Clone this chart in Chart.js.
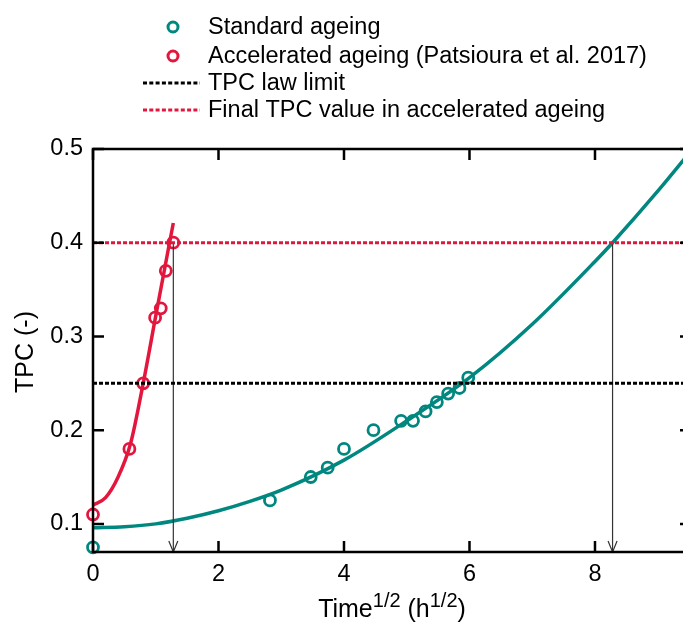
<!DOCTYPE html>
<html>
<head>
<meta charset="utf-8">
<script src="https://cdn.jsdelivr.net/npm/chart.js@4/dist/chart.umd.min.js"></script>
<style>
  html, body { margin: 0; padding: 0; background: #fff; overflow: hidden; }
  #wrap { width: 700px; height: 624px; }
</style>
</head>
<body>
<div id="wrap"><canvas id="grafico" width="700" height="624"></canvas></div>
<script>
// Standard ageing measurements
const stdX = [0, 2.82, 3.47, 3.74, 4.0, 4.47, 4.91, 5.10, 5.30, 5.48, 5.66, 5.84, 5.98];
const stdY = [0.075, 0.125, 0.150, 0.160, 0.180, 0.200, 0.210, 0.210, 0.220, 0.230, 0.239, 0.245, 0.256];

// Accelerated ageing (Patsioura et al. 2017)
const accX = [0, 0.58, 0.80, 0.99, 1.08, 1.16, 1.28];
const accY = [0.110, 0.180, 0.250, 0.320, 0.330, 0.370, 0.400];

// fitted curves
const stdFitX = [0, 0.5, 1, 1.5, 2, 2.5, 3, 4, 5, 6, 7, 8, 8.28, 9, 9.53];
const stdFitY = [0.096, 0.097, 0.100, 0.106, 0.114, 0.124, 0.136, 0.168, 0.210, 0.256, 0.313, 0.380, 0.400, 0.455, 0.498];
const accFitX = [0, 0.2, 0.4, 0.6, 0.8, 1.0, 1.2, 1.28];
const accFitY = [0.120, 0.128, 0.150, 0.186, 0.250, 0.322, 0.393, 0.421];

// limits and arrows
const lawLimit = 0.25;
const finalTPC = 0.40;
const arrowX = [1.28, 8.28];

const xTicks = [0, 2, 4, 6, 8];
const yTicks = [0.1, 0.2, 0.3, 0.4, 0.5];

const teal = '#00877f';
const red = '#e3173e';
const fonte = "'Liberation Sans', Arial, sans-serif";

const pts = (xs, ys) => xs.map((x, i) => ({ x: x, y: ys[i] }));

// frame, inward ticks, arrowheads, titles and legend
const extras = {
    id: 'extras',
    afterDatasetsDraw(chart) {
        const c = chart.ctx;
        const a = chart.chartArea;
        const sx = chart.scales.x, sy = chart.scales.y;

        // arrowheads
        c.save();
        c.strokeStyle = '#333';
        c.lineWidth = 1.2;
        arrowX.forEach(v => {
            const px = sx.getPixelForValue(v);
            c.beginPath();
            c.moveTo(px - 4.5, a.bottom - 11);
            c.lineTo(px, a.bottom);
            c.lineTo(px + 4.5, a.bottom - 11);
            c.stroke();
        });
        c.restore();

        // frame
        c.save();
        c.strokeStyle = '#000';
        c.lineWidth = 2.5;
        c.strokeRect(a.left, a.top, a.right - a.left, a.bottom - a.top);
        c.beginPath();
        xTicks.forEach(v => {
            const px = sx.getPixelForValue(v);
            c.moveTo(px, a.bottom); c.lineTo(px, a.bottom - 11);
            c.moveTo(px, a.top); c.lineTo(px, a.top + 11);
        });
        yTicks.forEach(v => {
            const py = sy.getPixelForValue(v);
            c.moveTo(a.left, py); c.lineTo(a.left + 11, py);
            c.moveTo(a.right, py); c.lineTo(a.right - 11, py);
        });
        c.stroke();
        c.restore();
    },
    afterDraw(chart) {
        const c = chart.ctx;
        const a = chart.chartArea;
        c.save();
        c.fillStyle = '#000';
        c.textBaseline = 'alphabetic';

        // x title with superscripts
        const big = '25px ' + fonte, small = '20px ' + fonte;
        const parts = [['Time', big, 0], ['1/2', small, -10], [' (h', big, 0], ['1/2', small, -10], [')', big, 0]];
        let w = 0;
        parts.forEach(p => { c.font = p[1]; w += c.measureText(p[0]).width; });
        let x = (a.left + a.right) / 2 - w / 2;
        const base = 617;
        parts.forEach(p => {
            c.font = p[1];
            c.fillText(p[0], x, base + p[2]);
            x += c.measureText(p[0]).width;
        });

        // y title
        c.font = big;
        c.textAlign = 'center';
        c.textBaseline = 'middle';
        c.translate(26, 352);
        c.rotate(-Math.PI / 2);
        c.fillText('TPC (-)', 0, 0);
        c.restore();

        // legend
        c.save();
        c.font = '23.5px ' + fonte;
        c.textBaseline = 'middle';
        c.fillStyle = '#000';
        const rows = [
            { y: 27, tipo: 'ponto', cor: teal, texto: 'Standard ageing' },
            { y: 56, tipo: 'ponto', cor: red, texto: 'Accelerated ageing (Patsioura et al. 2017)' },
            { y: 83, tipo: 'linha', cor: '#000', texto: 'TPC law limit' },
            { y: 110, tipo: 'linha', cor: red, texto: 'Final TPC value in accelerated ageing' }
        ];
        rows.forEach(r => {
            if (r.tipo === 'ponto') {
                c.beginPath();
                c.strokeStyle = r.cor;
                c.lineWidth = 3;
                c.arc(173, r.y, 5, 0, Math.PI * 2);
                c.stroke();
            } else {
                c.beginPath();
                c.strokeStyle = r.cor;
                c.lineWidth = 3;
                c.setLineDash([4, 2.3]);
                c.moveTo(143, r.y);
                c.lineTo(200, r.y);
                c.stroke();
                c.setLineDash([]);
            }
            c.fillText(r.texto, 208, r.y + 1);
        });
        c.restore();
    }
};

const ctx = document.getElementById('grafico').getContext('2d');
const grafico = new Chart(ctx, {
    type: 'scatter',
    data: {
        datasets: [
            {
                data: [{ x: 0, y: finalTPC }, { x: 9.53, y: finalTPC }],
                showLine: true, borderColor: red, borderWidth: 3, borderDash: [4, 2],
                pointRadius: 0
            },
            {
                data: [{ x: 0, y: lawLimit }, { x: 9.53, y: lawLimit }],
                showLine: true, borderColor: '#000', borderWidth: 3, borderDash: [4, 2],
                pointRadius: 0
            },
            {
                data: [{ x: arrowX[0], y: finalTPC }, { x: arrowX[0], y: 0.07 }],
                showLine: true, borderColor: '#333', borderWidth: 1.2, pointRadius: 0
            },
            {
                data: [{ x: arrowX[1], y: finalTPC }, { x: arrowX[1], y: 0.07 }],
                showLine: true, borderColor: '#333', borderWidth: 1.2, pointRadius: 0
            },
            {
                data: pts(stdFitX, stdFitY),
                showLine: true, borderColor: teal, borderWidth: 3.5,
                cubicInterpolationMode: 'monotone', pointRadius: 0
            },
            {
                data: pts(accFitX, accFitY),
                showLine: true, borderColor: red, borderWidth: 3.5,
                cubicInterpolationMode: 'monotone', pointRadius: 0
            },
            {
                label: 'Standard ageing',
                data: pts(stdX, stdY),
                pointRadius: 5.5, borderWidth: 2.8, borderColor: teal,
                backgroundColor: 'rgba(0,0,0,0)', clip: false
            },
            {
                label: 'Accelerated ageing (Patsioura et al. 2017)',
                data: pts(accX, accY),
                pointRadius: 5.5, borderWidth: 2.8, borderColor: red,
                backgroundColor: 'rgba(0,0,0,0)', clip: false
            }
        ]
    },
    options: {
        responsive: false,
        animation: false,
        layout: { padding: { left: 0, top: 149, right: 9, bottom: 0 } },
        plugins: { legend: { display: false }, tooltip: { enabled: false } },
        scales: {
            x: {
                type: 'linear', min: 0, max: 9.53,
                grid: { display: false, drawTicks: false },
                border: { display: false },
                afterBuildTicks: s => { s.ticks = xTicks.map(v => ({ value: v })); },
                afterFit: s => { s.height = 72; },
                ticks: { color: '#000', padding: 8, font: { family: fonte, size: 23.5 } }
            },
            y: {
                type: 'linear', min: 0.07, max: 0.5,
                grid: { display: false, drawTicks: false },
                border: { display: false },
                afterBuildTicks: s => { s.ticks = yTicks.map(v => ({ value: v })); },
                afterFit: s => { s.width = 93; },
                ticks: {
                    color: '#000', padding: 10, font: { family: fonte, size: 23.5 },
                    callback: v => v.toFixed(1)
                }
            }
        }
    },
    plugins: [extras]
});
</script>
</body>
</html>
